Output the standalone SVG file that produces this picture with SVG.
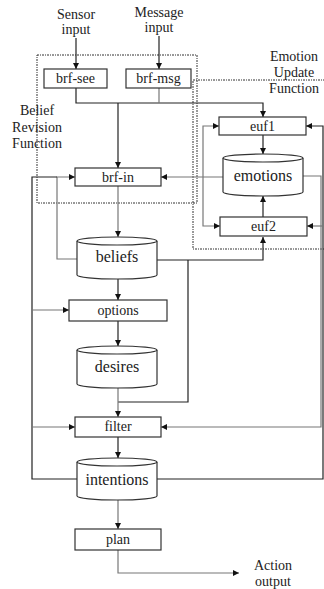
<svg xmlns="http://www.w3.org/2000/svg" width="324" height="589" viewBox="0 0 324 589" font-family="'Liberation Serif', 'Times New Roman', serif">
<style>
text{font-family:"Liberation Serif","Times New Roman",serif;font-size:14px;fill:#222;text-anchor:middle}
text.big{font-family:"Liberation Serif","Times New Roman",serif;font-size:16px}
.box{fill:#fff;stroke:#333;stroke-width:1.2}
.cyl{fill:#fff;stroke:#333;stroke-width:1.2}
.dk{fill:none;stroke:#222;stroke-width:1.2}
.gr{fill:none;stroke:#777;stroke-width:1.2}
.dash{fill:none;stroke:#333;stroke-width:1;stroke-dasharray:2 1 1 1}
</style>
<defs>
<marker id="ah" viewBox="0 0 10 10" refX="10" refY="5" markerWidth="6" markerHeight="6" markerUnits="userSpaceOnUse" orient="auto-start-reverse">
<path d="M0,0 L10,5 L0,10 z" fill="#111"/>
</marker>
</defs>

<g id="regions">
<rect class="dash" x="37" y="55" width="160" height="148"/>
<rect class="dash" x="193" y="80" width="140" height="169"/>
</g>

<g id="labels">
<text x="76" y="19">Sensor</text>
<text x="76" y="34">input</text>
<text x="159" y="17">Message</text>
<text x="159" y="32">input</text>
<text x="294" y="61">Emotion</text>
<text x="294" y="77">Update</text>
<text x="294" y="93">Function</text>
<text x="37" y="115">Belief</text>
<text x="37" y="132">Revision</text>
<text x="37" y="148">Function</text>
<text x="273" y="570">Action</text>
<text x="273" y="586">output</text>
</g>

<g id="connectors">
<path class="dk" d="M76,38 V69" marker-end="url(#ah)"/>
<path class="dk" d="M159,36 V69" marker-end="url(#ah)"/>
<path class="dk" d="M76,88 V103 H263 V117" marker-end="url(#ah)"/>
<path class="gr" d="M159,88 V103"/>
<path class="dk" d="M118,103 V168" marker-end="url(#ah)"/>
<path class="gr" d="M223,177 H161" marker-end="url(#ah)"/>
<path class="gr" d="M219,126 H203 V226 H220" marker-start="url(#ah)" marker-end="url(#ah)"/>
<path class="dk" d="M263,135 V154" marker-end="url(#ah)"/>
<path class="dk" d="M263,217 V196" marker-end="url(#ah)"/>
<path class="gr" d="M303,176 H321 V427 H161" marker-end="url(#ah)"/>
<path class="dk" d="M157,479 H323 V126 H306" marker-end="url(#ah)"/>
<path class="gr" d="M323,226 H307" marker-end="url(#ah)"/>
<path class="dk" d="M157,260 H263 V237" marker-end="url(#ah)"/>
<path class="dk" d="M188,260 V402 H118"/>
<path class="gr" d="M118,388 V417" marker-end="url(#ah)"/>
<path class="gr" d="M77,259 H57 V177 H75" marker-end="url(#ah)"/>
<path class="dk" d="M77,479 H32 V177 H57"/>
<path class="gr" d="M32,310 H69" marker-end="url(#ah)"/>
<path class="gr" d="M32,427 H75" marker-end="url(#ah)"/>
<path class="gr" d="M118,186 V237" marker-end="url(#ah)"/>
<path class="dk" d="M118,279 V300" marker-end="url(#ah)"/>
<path class="dk" d="M118,321 V346" marker-end="url(#ah)"/>
<path class="dk" d="M118,437 V458" marker-end="url(#ah)"/>
<path class="gr" d="M118,500 V529" marker-end="url(#ah)"/>
<path class="gr" d="M118,550 V573 H239" marker-end="url(#ah)"/>
</g>

<g id="brf-see"><rect class="box" x="44" y="69" width="63" height="19"/><text x="75.5" y="83">brf-see</text></g>
<g id="brf-msg"><rect class="box" x="126" y="69" width="65" height="19"/><text x="158.5" y="83">brf-msg</text></g>
<g id="euf1"><rect class="box" x="219" y="117" width="87" height="18"/><text x="262.5" y="131">euf1</text></g>
<g id="brf-in"><rect class="box" x="75" y="168" width="86" height="18"/><text x="118" y="182">brf-in</text></g>
<g id="emotions">
<path class="cyl" d="M223,158 V192 A40,4 0 0 0 303,192 V158 A40,4 0 0 0 223,158 Z"/>
<path class="cyl" d="M223,158 A40,4 0 0 0 303,158" fill="none"/>
<text class="big" x="263" y="181">emotions</text>
</g>
<g id="euf2"><rect class="box" x="220" y="217" width="87" height="19"/><text x="263.5" y="231">euf2</text></g>
<g id="beliefs">
<path class="cyl" d="M77,241 V275 A40,4 0 0 0 157,275 V241 A40,4 0 0 0 77,241 Z"/>
<path class="cyl" d="M77,241 A40,4 0 0 0 157,241" fill="none"/>
<text class="big" x="117" y="262">beliefs</text>
</g>
<g id="options"><rect class="box" x="69" y="300" width="98" height="21"/><text x="118" y="315">options</text></g>
<g id="desires">
<path class="cyl" d="M77,350 V384 A40,4 0 0 0 157,384 V350 A40,4 0 0 0 77,350 Z"/>
<path class="cyl" d="M77,350 A40,4 0 0 0 157,350" fill="none"/>
<text class="big" x="117" y="372">desires</text>
</g>
<g id="filter"><rect class="box" x="75" y="417" width="86" height="20"/><text x="118" y="431">filter</text></g>
<g id="intentions">
<path class="cyl" d="M77,462 V496 A40,4 0 0 0 157,496 V462 A40,4 0 0 0 77,462 Z"/>
<path class="cyl" d="M77,462 A40,4 0 0 0 157,462" fill="none"/>
<text class="big" x="117" y="485">intentions</text>
</g>
<g id="plan"><rect class="box" x="75" y="529" width="86" height="21"/><text x="118" y="544">plan</text></g>
</svg>
